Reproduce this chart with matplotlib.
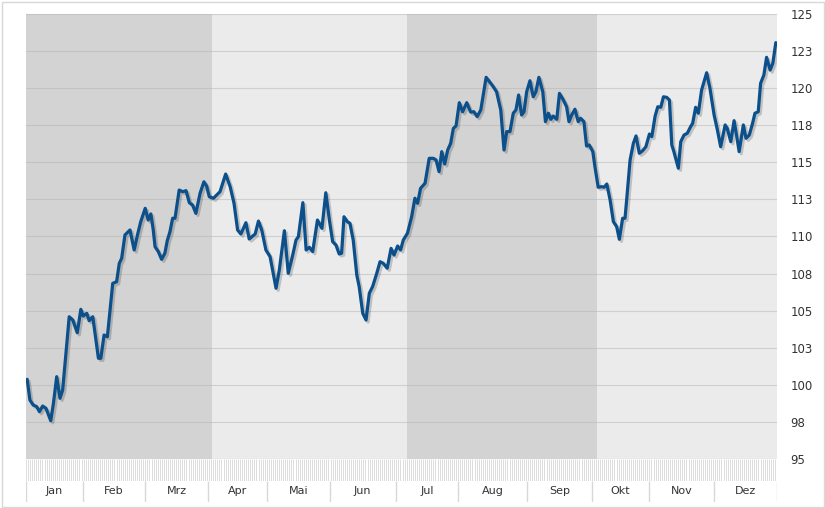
import numpy as np
import matplotlib
matplotlib.use("Agg")
import matplotlib.pyplot as plt
import matplotlib.patheffects as pe
from matplotlib.patches import Rectangle

# trading day index (0 .. 252) and index level
days = [0.4, 1.3, 2.4, 3.6, 4.5, 5.6, 6.7, 8.3, 9.2, 10.3, 11.4, 12.3, 13.7, 14.5, 15.7,
        17.2, 18.4, 19.2, 20.4, 21.2, 22.4, 24.3, 25.1, 26.2, 27.3, 29.1, 30.4, 31.3, 32.1,
        33.2, 34.9, 36.3, 37.4, 38.5, 40.0, 41.0, 41.9, 42.7, 43.3, 44.4, 45.5, 46.6, 47.4,
        48.3, 49.2, 50.0, 51.4, 52.6, 53.7, 54.8, 55.9, 57.0, 58.4, 59.7, 60.6, 61.5, 62.9,
        64.0, 65.1, 67.0, 68.5, 69.8, 71.0, 72.1, 73.8, 74.9, 76.1, 76.9, 78.0, 79.1, 80.5,
        81.9, 83.9, 85.0, 86.7, 88.0, 89.5, 90.6, 91.4, 92.9, 94.0, 95.1, 96.2, 97.8, 99.3,
        100.6, 101.8, 102.9, 104.0, 105.1, 105.9, 106.7, 107.8, 108.7, 109.8, 111.0, 111.8,
        113.0, 114.1, 115.2, 116.3, 117.7, 118.8, 119.9, 121.2, 122.5, 123.5, 124.7, 125.7,
        126.6, 128.0, 129.4, 130.5, 131.4, 132.4, 133.9, 135.3, 136.7, 137.6, 138.6, 139.5,
        140.5, 141.5, 142.5, 143.4, 144.3, 145.4, 146.5, 147.9, 149.2, 150.3, 151.4, 152.6,
        154.4, 155.5, 156.6, 157.9, 159.3, 160.4, 161.3, 162.4, 163.5, 164.4, 165.3, 166.3,
        167.1, 168.0, 169.1, 170.2, 171.1, 172.1, 173.4, 174.3, 175.3, 176.1, 176.9, 178.1,
        179.0, 180.3, 181.4, 182.2, 183.1, 184.2, 185.3, 186.1, 187.2, 188.1, 189.0, 190.2,
        190.9, 192.0, 193.2, 194.0, 194.9, 196.0, 197.1, 198.2, 199.1, 200.2, 201.0, 201.6,
        202.7, 203.8, 204.7, 205.8, 206.9, 208.0, 209.2, 210.0, 211.1, 212.0, 213.0, 213.9,
        215.0, 215.9, 216.7, 217.4, 218.9, 219.7, 220.8, 221.9, 223.0, 223.7, 224.7, 225.6,
        226.7, 228.4, 229.5, 230.9, 232.0, 233.1, 234.6, 235.3, 236.5, 237.6, 238.5, 239.3,
        240.7, 241.6, 242.7, 243.8, 244.6, 245.7, 246.5, 247.6, 248.5, 249.7, 250.6, 251.6]
values = [100.37, 98.98, 98.64, 98.53, 98.19, 98.57, 98.42, 97.58, 98.75, 100.55, 99.09, 99.65,
          102.80, 104.59, 104.37, 103.51, 105.09, 104.64, 104.82, 104.32, 104.59, 101.79, 101.79,
          103.36, 103.24, 106.84, 106.95, 108.19, 108.53, 110.10, 110.44, 109.09, 110.10, 111.00,
          111.90, 111.11, 111.52, 110.44, 109.31, 108.98, 108.46, 108.87, 109.72, 110.32, 111.23,
          111.23, 113.13, 113.02, 113.09, 112.28, 112.12, 111.56, 112.91, 113.69, 113.40, 112.68,
          112.58, 112.80, 113.02, 114.21, 113.36, 112.24, 110.44, 110.17, 110.93, 109.83, 110.03,
          110.17, 111.04, 110.44, 109.09, 108.64, 106.51, 107.74, 110.39, 107.52, 108.75, 109.76,
          109.99, 112.28, 109.09, 109.27, 108.98, 111.11, 110.55, 112.95, 111.11, 109.65, 109.43,
          108.82, 108.87, 111.33, 111.00, 110.89, 109.76, 107.40, 106.62, 104.82, 104.37, 106.17,
          106.62, 107.52, 108.30, 108.19, 107.86, 109.20, 108.75, 109.36, 109.09, 109.76, 110.22,
          111.33, 112.58, 112.24, 113.25, 113.59, 115.27, 115.27, 115.16, 114.37, 115.72, 114.89,
          115.83, 116.28, 117.29, 117.45, 119.02, 118.41, 119.02, 118.39, 118.41, 118.08, 118.53,
          120.73, 120.44, 120.15, 119.76, 118.53, 115.83, 117.07, 117.07, 118.31, 118.53, 119.54,
          118.19, 118.41, 119.76, 120.50, 119.42, 119.76, 120.73, 119.76, 117.74, 118.31, 117.90,
          118.12, 117.90, 119.65, 119.20, 118.75, 117.74, 118.19, 118.58, 117.74, 117.97, 117.74,
          116.10, 116.17, 115.72, 114.71, 113.32, 113.36, 113.32, 113.54, 112.46, 111.00, 110.66,
          109.81, 111.23, 111.23, 112.58, 115.16, 116.28, 116.78, 115.61, 115.78, 116.05, 116.91,
          116.73, 118.12, 118.75, 118.71, 119.42, 119.38, 119.20, 116.17, 115.72, 114.60, 116.39,
          116.84, 116.96, 117.40, 117.63, 118.71, 118.31, 119.88, 121.04, 119.99, 118.19, 117.18,
          116.05, 117.52, 117.29, 116.39, 117.81, 116.73, 115.72, 117.52, 116.62, 116.84, 117.63,
          118.31, 118.41, 120.33, 120.89, 122.08, 121.22, 121.68, 123.07]

months = ['Jan', 'Feb', 'Mrz', 'Apr', 'Mai', 'Jun', 'Jul', 'Aug', 'Sep', 'Okt', 'Nov', 'Dez']
month_starts = [0, 19, 40, 61, 81, 102, 124, 145, 168, 190, 209, 231, 252]
quarter_edges = [0, 62.5, 128, 191.5, 252]
quarter_colors = ['#d3d3d3', '#ebebeb', '#d3d3d3', '#ebebeb']
y_ticks = np.arange(95, 125.1, 2.5)
n_calendar_days = 365

W, H = 825, 508
fig = plt.figure(figsize=(W / 100, H / 100), dpi=100)
fig.patch.set_facecolor('white')

# main plot area
ax = fig.add_axes([26 / W, (H - 459) / H, 751 / W, 445 / H])
for i in range(4):
    ax.axvspan(quarter_edges[i], quarter_edges[i + 1], color=quarter_colors[i], lw=0, zorder=0)
for y in y_ticks:
    ax.axhline(y, color='#b4b4b4', lw=0.8, alpha=0.5, zorder=1)

ax.plot(days, values, color='#0b4f8b', lw=2.3, solid_joinstyle='round', solid_capstyle='round',
        zorder=3,
        path_effects=[pe.SimpleLineShadow(offset=(1.5, -1.5), shadow_color='black', alpha=0.18),
                      pe.Normal()])

ax.set_xlim(0, 252)
ax.set_ylim(95, 125)
ax.set_xticks([])
ax.set_yticks(y_ticks)
ax.set_yticklabels([str(int(np.floor(v + 0.5))) for v in y_ticks])
ax.yaxis.tick_right()
ax.tick_params(axis='y', length=0, pad=9.5, labelsize=8.5, labelcolor='#333333')
for s in ax.spines.values():
    s.set_visible(False)

# calendar-day tick strip
ax_t = fig.add_axes([26 / W, (H - 481) / H, 751 / W, 22 / H])
ax_t.vlines(np.linspace(0, 252, n_calendar_days + 1), 0, 1, color='#dcdcdc', lw=0.7)
ax_t.set_xlim(0, 252)
ax_t.set_ylim(0, 1)
ax_t.axis('off')

# month labels
ax_m = fig.add_axes([26 / W, (H - 502) / H, 751 / W, 21 / H])
ax_m.vlines(month_starts, 0, 1, color='#d8d8d8', lw=1)
for i, m in enumerate(months):
    ax_m.text((month_starts[i] + month_starts[i + 1]) / 2, 0.5, m, ha='center', va='center',
              fontsize=8, color='#333333')
ax_m.set_xlim(0, 252)
ax_m.set_ylim(0, 1)
ax_m.axis('off')

# outer frame
fig.patches.append(Rectangle((1.5 / W, 1.5 / H), (W - 3) / W, (H - 3) / H, transform=fig.transFigure,
                             fill=False, edgecolor='#d8d8d8', lw=1))

fig.savefig('out.png', dpi=100)
